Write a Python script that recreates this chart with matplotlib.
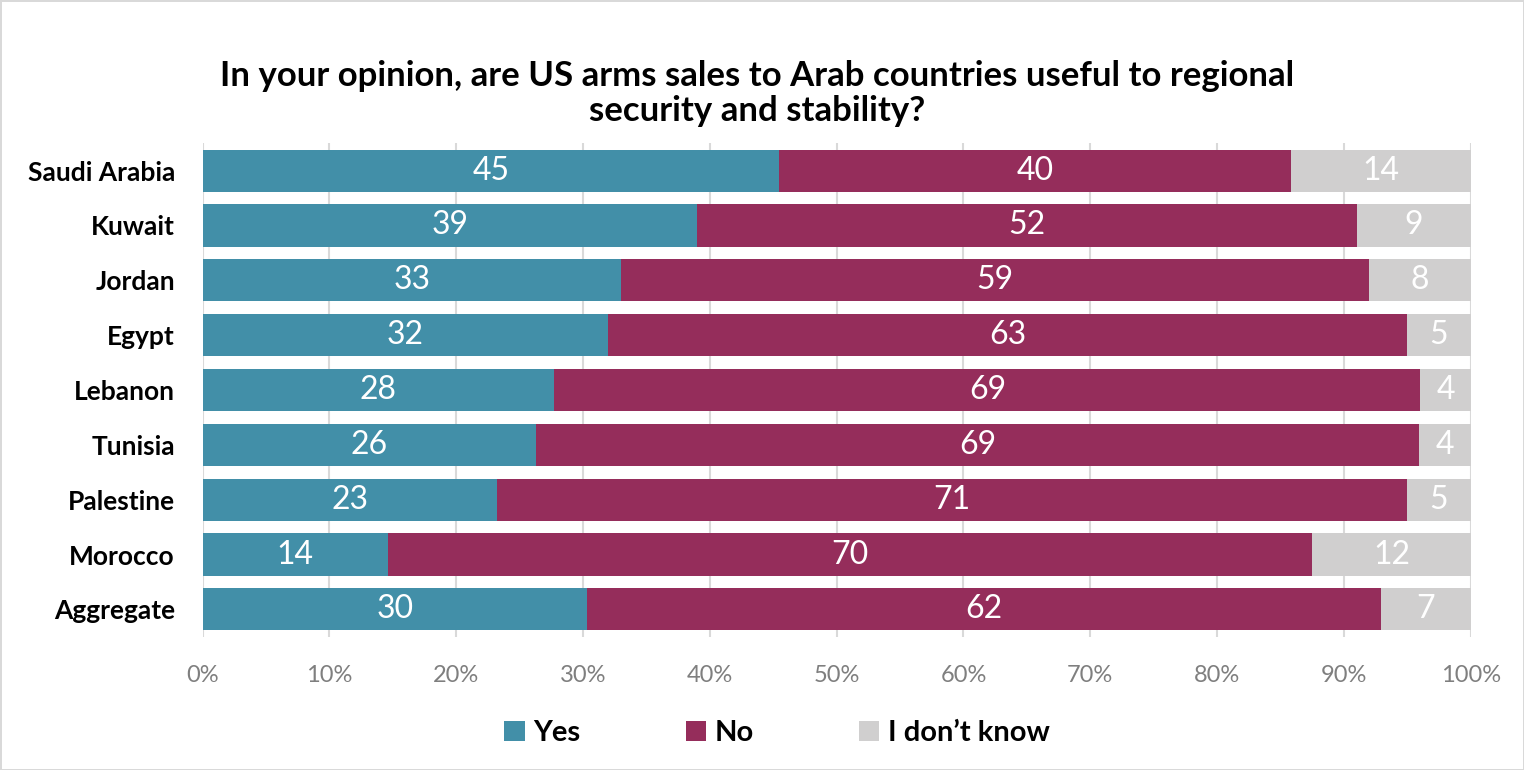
import matplotlib.pyplot as plt
import numpy as np
from matplotlib.ticker import PercentFormatter

countries = ["Saudi Arabia", "Kuwait", "Jordan", "Egypt", "Lebanon",
             "Tunisia", "Palestine", "Morocco", "Aggregate"]
yes = [45, 39, 33, 32, 28, 26, 23, 14, 30]
no = [40, 52, 59, 63, 69, 69, 71, 70, 62]
dont_know = [14, 9, 8, 5, 4, 4, 5, 12, 7]

series = [("Yes", yes, "#428fa8"), ("No", no, "#952d5b"), ("I don\u2019t know", dont_know, "#d0cfcf")]

plt.rcParams['font.family'] = ['Lato', 'DejaVu Sans']

fig = plt.figure(figsize=(15.24, 7.7), dpi=100)
fig.patch.set_edgecolor("#d9d9d9")
fig.patch.set_linewidth(2)
ax = fig.add_axes([0.133, 0.173, 0.832, 0.641])

totals = np.array(yes) + np.array(no) + np.array(dont_know)
y = np.arange(len(countries))
left = np.zeros(len(countries))
for name, vals, col in series:
    pct = np.array(vals) / totals * 100
    ax.barh(y, pct, left=left, height=0.77, color=col, label=name, zorder=3)
    for yi, l, p, v in zip(y, left, pct, vals):
        ax.text(l + p / 2, yi, str(v), ha="center", va="center",
                color="white", fontsize=23, zorder=4)
    left += pct

ax.set_xlim(0, 100)
ax.set_ylim(len(countries) - 0.5, -0.5)
ax.set_yticks(y)
ax.set_yticklabels(countries, fontsize=19, fontweight="bold")
ax.set_xticks(np.arange(0, 101, 10))
ax.xaxis.set_major_formatter(PercentFormatter(decimals=0))
ax.tick_params(axis="x", colors="#7f7f7f", labelsize=17, length=0, pad=20)
ax.tick_params(axis="y", length=0, pad=20)
for s in ax.spines.values():
    s.set_visible(False)
ax.grid(axis="x", color="#d9d9d9", linewidth=1.5, zorder=0)

fig.suptitle("In your opinion, are US arms sales to Arab countries useful to regional\nsecurity and stability?",
             x=0.497, y=0.922, va="top", fontsize=25, fontweight="bold", linespacing=1.1)

leg = fig.legend(loc="center", bbox_to_anchor=(0.51, 0.048), ncol=3, frameon=False,
                 prop={"size": 21, "weight": "bold"}, handlelength=0.7, handleheight=0.7,
                 columnspacing=3.6, handletextpad=0.3)

fig.savefig("out.png", dpi=100)
